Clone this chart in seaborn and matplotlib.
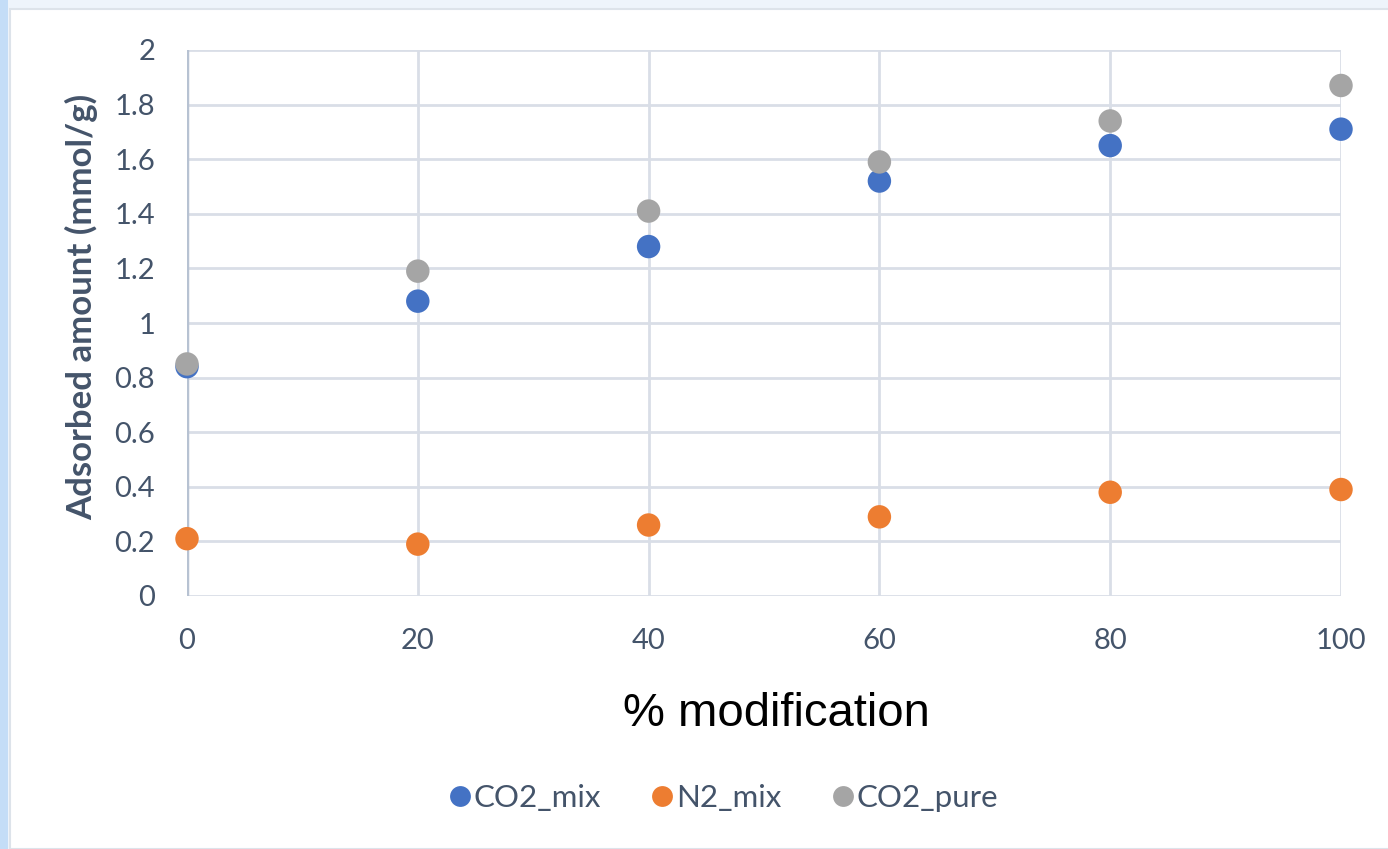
import matplotlib
matplotlib.use("Agg")
import matplotlib.pyplot as plt
from matplotlib.patches import Rectangle
from matplotlib.lines import Line2D
import seaborn as sns
import pandas as pd

# Adsorption data
modification = [0, 20, 40, 60, 80, 100]
co2_mix = [0.84, 1.08, 1.28, 1.52, 1.65, 1.71]
n2_mix = [0.21, 0.19, 0.26, 0.29, 0.38, 0.39]
co2_pure = [0.85, 1.19, 1.41, 1.59, 1.74, 1.87]

series_names = ["CO2_mix", "N2_mix", "CO2_pure"]
series_colors = ["#4472C4", "#ED7D31", "#A5A5A5"]

y_ticks = [0, 0.2, 0.4, 0.6, 0.8, 1, 1.2, 1.4, 1.6, 1.8, 2]
y_tick_labels = ["0", "0.2", "0.4", "0.6", "0.8", "1", "1.2", "1.4", "1.6", "1.8", "2"]
x_ticks = [0, 20, 40, 60, 80, 100]

df = pd.DataFrame({
    "modification": modification * 3,
    "amount": co2_mix + n2_mix + co2_pure,
    "series": sum([[n] * len(modification) for n in series_names], []),
})

sns.set_theme(style="white")
plt.rcParams["font.family"] = ["Lato", "DejaVu Sans"]

fig = plt.figure(figsize=(13.88, 8.49), dpi=100)
fig.patch.set_facecolor("white")

# Light blue frame around the white panel
fig.add_artist(Rectangle((0, 0), 1, 1, transform=fig.transFigure,
                         facecolor="#eef4fb", edgecolor="none", zorder=-3))
fig.add_artist(Rectangle((0, 0), 8 / 1388, 1, transform=fig.transFigure,
                         facecolor="#c4ddf7", edgecolor="none", zorder=-2))
fig.add_artist(Rectangle((10 / 1388, 0), 1, 1 - 9 / 849, transform=fig.transFigure,
                         facecolor="white", edgecolor="#dde3ea", linewidth=1.5, zorder=-1))

ax = fig.add_axes([187 / 1388, 1 - 596 / 849, (1341 - 187) / 1388, (596 - 50) / 849])
ax.set_facecolor("none")

sns.scatterplot(data=df, x="modification", y="amount", hue="series",
                hue_order=series_names, palette=series_colors,
                s=285, edgecolor="none", linewidth=0, legend=False, ax=ax, zorder=3)

ax.set_xlim(0, 100)
ax.set_ylim(0, 2)
ax.set_xticks(x_ticks)
ax.set_yticks(y_ticks)
ax.set_yticklabels(y_tick_labels)

grid_color = "#d9dee7"
for x in x_ticks[1:]:
    ax.axvline(x, color=grid_color, linewidth=2, zorder=1)
for y in y_ticks:
    ax.axhline(y, color=grid_color, linewidth=2, zorder=1)
ax.axvline(0, color="#b7c2d2", linewidth=2.5, zorder=2)

for s in ax.spines.values():
    s.set_visible(False)

label_color = "#44546A"
ax.tick_params(axis="both", length=0, labelsize=21, colors=label_color)
ax.tick_params(axis="x", pad=23)
ax.tick_params(axis="y", pad=23)
for c in ax.collections:
    c.set_clip_on(False)

ax.set_xlabel("")
ax.set_ylabel("")
fig.text(82 / 1388, 1 - 307 / 849, "Adsorbed amount (mmol/g)", rotation=90,
         ha="center", va="center", fontsize=25, fontweight="bold", color=label_color)
fig.text(776 / 1388, 1 - 714 / 849, "% modification", ha="center", va="center",
         fontsize=34, color="black", family=["Liberation Sans", "DejaVu Sans"])

handles = [Line2D([], [], marker="o", linestyle="none", markersize=15,
                  markerfacecolor=c, markeredgecolor="none") for c in series_colors]
fig.legend(handles, series_names, loc="center", bbox_to_anchor=(722 / 1388, 1 - 798 / 849),
           ncol=3, frameon=False, fontsize=22.5, labelcolor=label_color,
           handletextpad=0.0, columnspacing=1.5, handlelength=0.9)

fig.savefig("out.png", dpi=100, facecolor=fig.get_facecolor())
